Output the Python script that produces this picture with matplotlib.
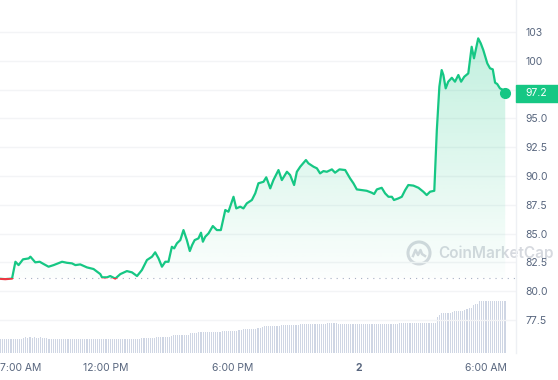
import numpy as np
import matplotlib
matplotlib.use("Agg")
import matplotlib.pyplot as plt
from matplotlib.patches import Rectangle, Polygon, Ellipse
from matplotlib.transforms import blended_transform_factory

plt.rcParams['font.family'] = ['Inter', 'DejaVu Sans']

# ---------------- data ----------------
# time in hours since midnight of day 1 (24 = midnight "2")
time_h = [7.02, 7.25, 7.57, 7.73, 7.88, 8.09, 8.36, 8.44, 8.67, 8.88, 9.07, 9.30, 9.54,
          9.94, 10.17, 10.41, 10.57, 10.80, 11.12, 11.43, 11.75, 11.83, 12.07, 12.22,
          12.46, 12.70, 13.01, 13.25, 13.49, 13.72, 13.96, 14.20, 14.35, 14.51, 14.67,
          14.83, 14.98, 15.14, 15.25, 15.38, 15.54, 15.69, 15.85, 15.99, 16.10, 16.22,
          16.40, 16.52, 16.61, 16.72, 16.88, 17.08, 17.27, 17.46, 17.67, 17.82, 18.06,
          18.19, 18.38, 18.53, 18.69, 18.93, 19.09, 19.24, 19.48, 19.61, 19.69, 19.80,
          19.95, 20.19, 20.35, 20.59, 20.74, 20.93, 21.06, 21.22, 21.49, 21.61, 21.85,
          22.01, 22.16, 22.32, 22.48, 22.72, 22.87, 23.08, 23.35, 23.58, 23.74, 23.90,
          24.14, 24.37, 24.61, 24.72, 24.85, 25.08, 25.24, 25.40, 25.56, 25.66, 25.87,
          26.03, 26.19, 26.34, 26.58, 26.82, 27.05, 27.21, 27.37, 27.57, 27.69, 27.81,
          27.92, 28.00, 28.11, 28.23, 28.40, 28.55, 28.71, 28.84, 28.99, 29.18, 29.34,
          29.45, 29.65, 29.77, 29.89, 30.08, 30.21, 30.34, 30.45, 30.55, 30.68, 30.84,
          30.93]
price = [81.08, 81.05, 81.10, 82.56, 82.27, 82.77, 82.85, 83.00, 82.51, 82.56, 82.36, 82.13, 82.27,
         82.56, 82.47, 82.42, 82.27, 82.33, 82.07, 81.93, 81.49, 81.21, 81.21, 81.32,
         81.10, 81.49, 81.75, 81.64, 81.32, 81.84, 82.71, 83.00, 83.38, 82.85, 82.13,
         82.56, 82.56, 83.86, 83.72, 84.16, 84.44, 85.31, 84.44, 83.49, 84.01, 84.44,
         84.59, 85.08, 84.30, 84.73, 85.03, 85.66, 85.31, 85.31, 87.05, 86.90, 88.20,
         87.19, 87.34, 87.19, 87.63, 87.92, 88.50, 89.37, 89.50, 89.89, 89.50, 88.93,
         89.65, 90.52, 89.65, 90.37, 90.09, 89.22, 90.37, 90.81, 91.39, 91.10, 90.81,
         90.67, 90.23, 90.43, 90.37, 90.58, 90.29, 90.58, 90.52, 89.80, 89.37, 88.84,
         88.78, 88.72, 88.55, 88.44, 88.84, 88.98, 88.50, 88.20, 88.20, 87.92, 88.06,
         88.20, 88.78, 89.22, 89.17, 88.98, 88.64, 88.35, 88.64, 88.72, 93.99, 97.75,
         99.20, 98.77, 97.61, 98.19, 98.53, 98.19, 98.77, 98.19, 98.62, 98.91, 101.22,
         100.22, 101.95, 101.52, 100.94, 99.78, 99.35, 99.26, 98.10, 97.99, 97.61, 97.46,
         97.20]
open_price = 81.15

# volume bars, one every 6 minutes starting 7:01 AM
vol_start = 7.02
vol_step = 0.1
volume = [
    14.0, 14.2, 13.8, 14.0, 14.1, 14.0, 13.9, 14.2, 14.0, 14.1, 14.3,
    15.5, 15.6, 15.4, 15.7, 15.5, 15.6, 15.5, 15.3, 15.6, 15.5, 15.4, 15.0,
    14.2, 14.1, 14.0, 13.9, 14.0, 14.1, 13.8, 14.0, 14.2, 14.0, 13.9, 14.1, 14.0, 14.0, 13.8,
    14.0, 14.1, 14.2, 14.0, 13.9, 14.0, 14.0, 14.1, 13.8, 14.0, 14.2, 14.0, 13.9, 14.0, 14.1,
    14.0, 14.0, 13.9, 14.1, 14.0, 14.2, 14.0, 13.8, 14.0, 14.1, 14.0, 14.2, 14.3, 14.5,
    14.7, 14.6, 14.8, 14.7, 14.7, 14.9, 15.0,
    16.0, 16.3, 16.2, 16.4, 16.3, 16.5, 16.3, 16.6,
    17.6, 18.0, 17.9, 18.1, 18.0, 18.2, 18.0, 18.4,
    20.0, 20.3, 20.4, 20.5,
    21.2, 21.3, 21.1, 21.3, 21.4, 21.3, 21.2, 21.3, 21.5, 21.3, 21.4, 21.6,
    22.1, 22.3, 22.2, 22.4, 22.3, 22.5, 22.3, 22.6,
    23.4, 23.7, 23.6, 23.8, 23.7, 23.9, 23.7, 24.0,
    25.0, 25.3, 25.6,
    26.6, 27.0, 26.9, 27.1, 27.0, 27.2, 27.0, 27.4,
    27.8, 28.0, 27.9, 28.1, 28.0, 28.2, 28.0, 28.1, 28.3,
    28.8, 29.0, 28.9, 29.1, 29.0, 29.2, 29.0, 28.9, 29.1, 29.0, 29.2, 29.3, 29.4,
    29.6, 29.7, 29.8, 29.7, 29.6, 29.5,
    28.9, 28.7, 28.6, 28.8, 28.7, 28.6, 28.7, 28.8, 28.7, 28.6, 28.7, 28.8, 28.9, 29.0,
    29.2, 29.3, 29.2, 29.4, 29.3, 29.2, 29.3, 29.4, 29.3, 29.2, 29.3, 29.4, 29.3, 29.5, 29.6, 29.8, 29.9, 30.0,
    30.2, 30.3, 30.2, 30.4, 30.3, 30.2, 30.3, 30.4, 30.3, 30.2, 30.3, 30.4, 30.3, 30.4,
    36.0, 38.0,
    40.0, 40.3, 40.2, 40.4, 40.3, 40.6,
    42.0, 42.3, 42.2, 42.4, 42.3, 42.6,
    44.5, 44.7, 45.0,
    48.5, 49.0, 49.4,
    51.8, 52.0, 51.9, 52.1, 52.0, 52.2, 52.0, 52.1, 52.0, 52.1, 52.0, 52.2, 52.1,
]

x_ticks = [7, 12, 18, 24, 30]
x_labels = ["7:00 AM", "12:00 PM", "6:00 PM", "2", "6:00 AM"]
y_ticks = [77.5, 80.0, 82.5, 85.0, 87.5, 90.0, 92.5, 95.0, 97.5, 100.0, 102.5]
y_labels = ["77.5", "80.0", "82.5", "85.0", "87.5", "90.0", "92.5", "95.0", "", "100", "103"]

# ---------------- style ----------------
GREEN = "#16c784"
RED = "#ea3943"
GRAY = "#58667e"
XMIN, XMAX = 7.0, 31.44
YMIN, YMAX = 74.64, 105.28

t = np.array(time_h)
p = np.array(price)
vol_t = vol_start + vol_step * np.arange(len(volume))

fig = plt.figure(figsize=(5.58, 3.80), dpi=100)
fig.patch.set_facecolor("white")
rect = [0, 27 / 380, 516 / 558, 353 / 380]

axv = fig.add_axes(rect)
axv.bar(vol_t, volume, width=0.055, color="#cfd6e4", linewidth=0)
axv.set_xlim(XMIN, XMAX)
axv.set_ylim(0, 353)
axv.axis("off")

ax = fig.add_axes(rect)
ax.patch.set_visible(False)

# gradient fill under line
rgb = matplotlib.colors.to_rgb(GREEN)
grad = np.zeros((256, 1, 4))
grad[..., 0], grad[..., 1], grad[..., 2] = rgb
grad[:, 0, 3] = np.linspace(0.27, 0.0, 256)
im = ax.imshow(grad, extent=(XMIN, XMAX, 80, 102.5), aspect="auto", origin="upper", zorder=1)
verts = list(zip(t, p)) + [(t[-1], open_price), (t[0], open_price)]
poly = Polygon(verts, closed=True, facecolor="none", edgecolor="none", transform=ax.transData)
ax.add_patch(poly)
im.set_clip_path(poly)

# baseline
ax.axhline(open_price, color="#a6b0c3", lw=0.8, ls=(0, (1, 4.5)), zorder=2)

lg, = ax.plot(t, p, color=GREEN, lw=1.6, zorder=3, solid_joinstyle="round")
lg.set_clip_path(Rectangle((XMIN, open_price), XMAX - XMIN, 40, transform=ax.transData))
lr, = ax.plot(t, p, color=RED, lw=1.6, zorder=3, solid_joinstyle="round")
lr.set_clip_path(Rectangle((XMIN, 60), XMAX - XMIN, open_price - 60, transform=ax.transData))
ax.plot(t[-1:], p[-1:], "o", ms=7, color=GREEN, zorder=4, clip_on=False)

ax.set_xlim(XMIN, XMAX)
ax.set_ylim(YMIN, YMAX)

ax.set_yticks(y_ticks)
ax.set_yticklabels(y_labels)
ax.yaxis.tick_right()
ax.tick_params(axis="y", length=0, pad=6.5, labelsize=7.5, labelcolor=GRAY)
ax.set_xticks(x_ticks)
ax.set_xticklabels(x_labels)
ax.tick_params(axis="x", length=0, pad=7, labelsize=7.5, labelcolor=GRAY)
ax.get_xticklabels()[0].set_ha("left")
ax.get_xticklabels()[3].set_fontweight("bold")
ax.grid(axis="y", color="#f3f4f6", lw=1)
ax.set_axisbelow(True)
for s in ["top", "left", "bottom"]:
    ax.spines[s].set_visible(False)
ax.spines["right"].set_color("#eef0f4")
ax.spines["right"].set_linewidth(1)

# current price tag
bt = blended_transform_factory(ax.transAxes, ax.transData)
ax.add_patch(Rectangle((1.0, p[-1] - 0.74), 42 / 516, 1.48, transform=bt,
                       color=GREEN, clip_on=False, zorder=5))
ax.text(1.0 + 9 / 516, p[-1], f"{p[-1]:.1f}", transform=bt, color="white",
        fontsize=7.5, va="center", ha="left", zorder=6, clip_on=False)

# watermark
wm = "#d6d9df"
ax.add_patch(Ellipse((419 / 516, 100 / 353), 22 / 516, 22 / 353, transform=ax.transAxes,
                     fill=False, ec=wm, lw=2.2, clip_on=False, zorder=0.5))
logo = np.array([(-6, -3), (-3.5, 3), (-1, -2), (1.5, 3), (3, -1), (6, -3)])
ax.plot((419 + logo[:, 0]) / 516, (100 + logo[:, 1]) / 353, transform=ax.transAxes,
        color=wm, lw=1.8, clip_on=False, zorder=0.5, solid_joinstyle="round")
ax.text(438 / 516, 100 / 353, "CoinMarketCap", transform=ax.transAxes, color=wm,
        fontsize=11, fontweight="semibold", va="center", ha="left", clip_on=False, zorder=0.5)

fig.savefig("out.png", dpi=100)
